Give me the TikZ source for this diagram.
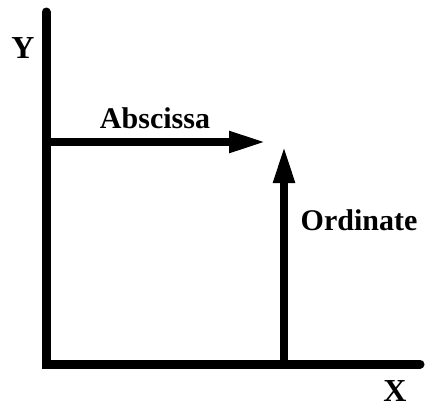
\documentclass[tikz,border=0pt]{standalone}
\usepackage{fontspec}
\setmainfont{Liberation Serif}
\usetikzlibrary{arrows.meta}
\begin{document}
\begin{tikzpicture}[x=1pt,y=-1pt,
  axis/.style={line width=9pt,line cap=round},
  vecline/.style={line width=8pt,-{Triangle[length=37pt,width=20pt]}},
  lbl/.style={font=\bfseries\fontsize{30}{32}\selectfont,inner sep=0pt,anchor=base},
  axlbl/.style={font=\bfseries\fontsize{32}{34}\selectfont,inner sep=0pt,anchor=base}]
\useasboundingbox (0,0) rectangle (425,408);
\coordinate (ytop) at (46,12);
\coordinate (origin) at (46,364);
\coordinate (xend) at (420,364);
\coordinate (ab0) at (46,142);
\coordinate (ab1) at (266,142);
\coordinate (or0) at (284,364);
\coordinate (or1) at (284,146);
\draw[axis] (ytop) -- (origin) -- (xend);
\draw[vecline] (ab0) -- (ab1);
\draw[vecline] (or0) -- (or1);
\node[axlbl] (ylab) at (23,58) {Y};
\node[axlbl] (xlab) at (395,401) {X};
\node[lbl] (abs) at (155,128) {Abscissa};
\node[lbl] (ord) at (359,230) {Ordinate};
\end{tikzpicture}
\end{document}
